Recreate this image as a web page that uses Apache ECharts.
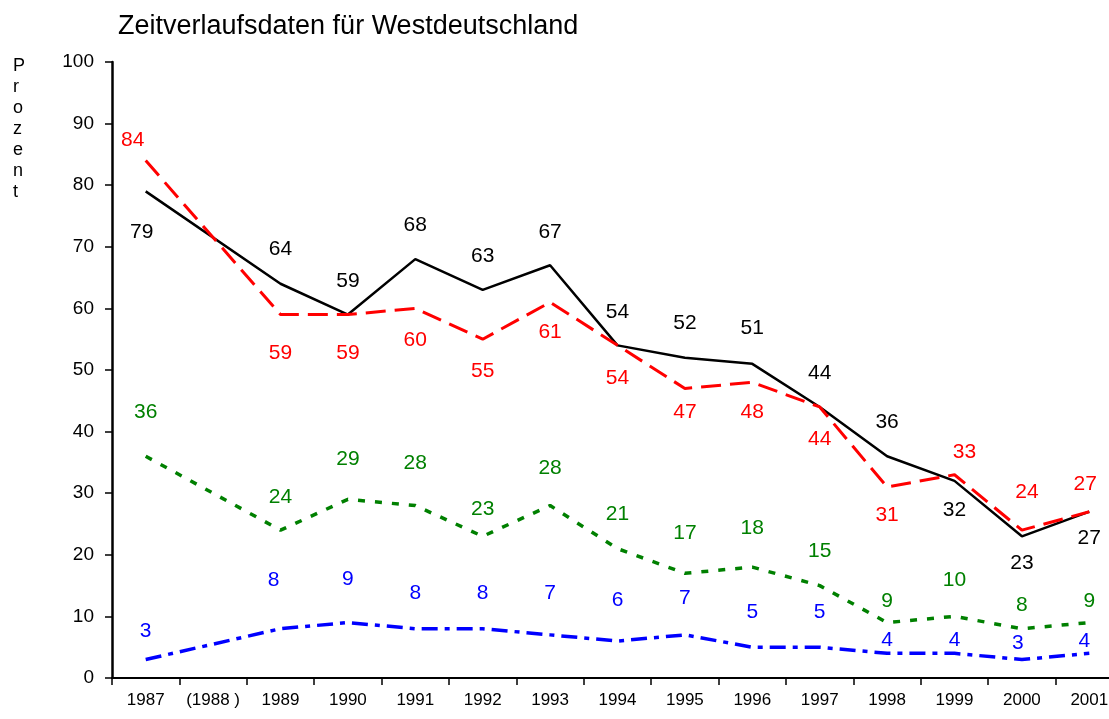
<!DOCTYPE html>
<html>
<head>
<meta charset="utf-8">
<script src="https://cdn.jsdelivr.net/npm/echarts@6/dist/echarts.min.js"></script>
<style>
  html, body { margin: 0; padding: 0; background: #fff; }
  #chart { width: 1109px; height: 719px; }
</style>
</head>
<body>
<div id="chart"></div>
<script>
// categories (1988 has no survey values, lines connect across it)
const years = ['1987', '(1988 )', '1989', '1990', '1991', '1992', '1993', '1994', '1995', '1996', '1997', '1998', '1999', '2000', '2001']

const blackVals = [79, null, 64, 59, 68, 63, 67, 54, 52, 51, 44, 36, 32, 23, 27]
const redVals = [84, null, 59, 59, 60, 55, 61, 54, 47, 48, 44, 31, 33, 24, 27]
const greenVals = [36, null, 24, 29, 28, 23, 28, 21, 17, 18, 15, 9, 10, 8, 9]
const blueVals = [3, null, 8, 9, 8, 8, 7, 6, 7, 5, 5, 4, 4, 3, 4]

const yTicks = [0, 10, 20, 30, 40, 50, 60, 70, 80, 90, 100]

// label placement (offset of label centre from the point, px)
const blackLblY = [41, 0, -35, -33, -34, -34, -33, -33, -34, -36, -34, -34, 29, 27, 27]
const blackLblX = [-4, 0, 0, 0, 0, 0, 0, 0, 0, 0, 0, 0, 0, 0, 0]
const redLblY = [-20, 0, 39, 39, 32, 32, 30, 33, 24, 30, 32, 28, -23, -38, -27]
const redLblX = [-13, 0, 0, 0, 0, 0, 0, 0, 0, 0, 0, 0, 10, 5, -4]
const greenLblY = [-44, 0, -33, -40, -42, -27, -37, -34, -40, -39, -34, -21, -36, -24, -21]
const blueLblY = [-28, 0, -49, -43, -36, -36, -42, -41, -37, -35, -35, -13, -13, -16, -12]
const blueLblX = [0, 0, -7, 0, 0, 0, 0, 0, 0, 0, 0, 0, 0, -4, -5]

const FONT = '"Liberation Sans", Arial, sans-serif'

function buildData (vals, dys, dxs) {
  return vals.map((v, i) => ({
    value: v,
    label: { offset: [dxs ? dxs[i] : 0, dys[i]] }
  }))
}

function lineSeries (name, vals, dys, dxs, color, width, dash) {
  return {
    name: name,
    type: 'line',
    connectNulls: true,
    symbol: 'circle',
    symbolSize: 1,
    itemStyle: { color: 'rgba(0,0,0,0)', borderWidth: 0 },
    lineStyle: { color: color, width: width, type: dash },
    label: {
      show: true,
      position: 'inside',
      color: color,
      fontFamily: FONT,
      fontSize: 21
    },
    emphasis: { disabled: true },
    data: buildData(vals, dys, dxs)
  }
}

const chart = echarts.init(document.getElementById('chart'))
chart.setOption({
  animation: false,
  backgroundColor: '#fff',
  title: {
    text: 'Zeitverlaufsdaten für Westdeutschland',
    left: 113,
    top: 8,
    textStyle: { fontFamily: FONT, fontSize: 27, fontWeight: 'normal', color: '#000' }
  },
  graphic: [{
    type: 'text',
    left: 13,
    top: 56,
    style: {
      text: 'P\nr\no\nz\ne\nn\nt',
      font: '18px ' + FONT,
      lineHeight: 21,
      align: 'center',
      fill: '#000'
    }
  }],
  grid: { left: 112, top: 62, bottom: 41, width: 1011, outerBoundsMode: 'none', containLabel: false },
  xAxis: {
    type: 'category',
    data: years,
    boundaryGap: true,
    axisLine: { lineStyle: { color: '#000', width: 2 } },
    axisTick: { show: true, length: 7, lineStyle: { color: '#000', width: 1.5 } },
    axisLabel: { color: '#000', fontFamily: FONT, fontSize: 17, margin: 14, interval: 0 },
    splitLine: { show: false }
  },
  yAxis: {
    type: 'value',
    min: yTicks[0],
    max: yTicks[yTicks.length - 1],
    interval: 10,
    axisLine: { show: true, lineStyle: { color: '#000', width: 2.5 } },
    axisTick: { show: true, length: 7, lineStyle: { color: '#000', width: 1.5 } },
    axisLabel: { color: '#000', fontFamily: FONT, fontSize: 19, margin: 18 },
    splitLine: { show: false }
  },
  series: [
    lineSeries('schwarz', blackVals, blackLblY, blackLblX, '#000000', 2.5, 'solid'),
    lineSeries('rot', redVals, redLblY, redLblX, '#ff0000', 3, [20, 9]),
    lineSeries('gruen', greenVals, greenLblY, null, '#008000', 3.5, [7, 10]),
    lineSeries('blau', blueVals, blueLblY, blueLblX, '#0000ff', 3.5, [16, 7, 5, 7])
  ]
})
</script>
</body>
</html>
